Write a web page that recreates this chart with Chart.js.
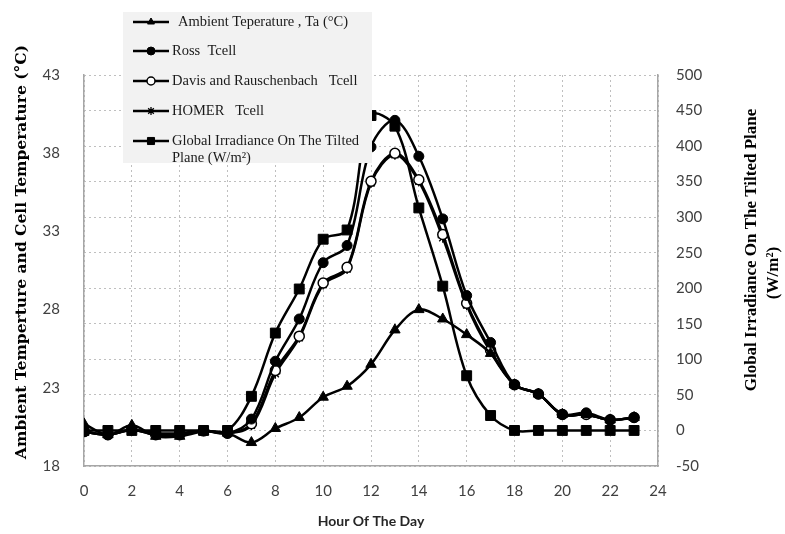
<!DOCTYPE html>
<html>
<head>
<meta charset="utf-8">
<script src="https://cdn.jsdelivr.net/npm/chart.js@4.4.1/dist/chart.umd.min.js"></script>
<style>
  html, body { margin: 0; padding: 0; background: #ffffff; }
  #wrap { width: 785px; height: 534px; position: relative; }
</style>
</head>
<body>
<div id="wrap"><canvas id="cellTempChart" width="785" height="534"></canvas></div>
<script>
// Values, one per hour (0..23)
const hours = [0, 1, 2, 3, 4, 5, 6, 7, 8, 9, 10, 11, 12, 13, 14, 15, 16, 17, 18, 19, 20, 21, 22, 23];
const ambientTemp = [20.7, 20.0, 20.6, 19.9, 19.9, 20.2, 20.1, 19.5, 20.4, 21.1, 22.4, 23.1, 24.5, 26.7, 28.0, 27.4, 26.4, 25.2, 23.2, 22.6, 21.3, 21.3, 20.95, 21.1];
const rossTcell = [20.2, 20.0, 20.3, 20.1, 20.1, 20.25, 20.1, 21.0, 24.7, 27.4, 31.0, 32.1, 38.4, 40.1, 37.8, 33.8, 28.9, 25.9, 23.2, 22.6, 21.3, 21.4, 20.95, 21.1];
const davisTcell = [20.2, 20.0, 20.3, 20.0, 20.0, 20.25, 20.1, 20.7, 24.1, 26.3, 29.7, 30.7, 36.2, 38.0, 36.3, 32.8, 28.4, 25.4, 23.2, 22.6, 21.3, 21.3, 20.95, 21.1];
const homerTcell = [20.2, 20.0, 20.3, 20.0, 20.0, 20.25, 20.1, 20.6, 23.9, 26.2, 29.6, 30.6, 36.1, 37.9, 36.2, 32.6, 28.3, 25.3, 23.2, 22.6, 21.3, 21.3, 20.95, 21.1];
const irradiance = [0, 0, 0, 0, 0, 0, 0, 48, 137, 199, 269, 282, 443, 428, 313, 203, 77, 21, 0, 0, 0, 0, 0, 0];

const legendLabels = [
    ["Ambient Teperature , Ta (\u00B0C)"],
    ["Ross  Tcell"],
    ["Davis and Rauschenbach   Tcell"],
    ["HOMER   Tcell"],
    ["Global Irradiance On The Tilted", "Plane (W/m\u00B2)"]
];
const leftTitle = "Ambient Temperture and Cell Temperature (\u00B0C)";
const rightTitle = ["Global Irradiance On The Tilted Plane", "(W/m\u00B2)"];
const bottomTitle = "Hour Of The Day";

function toPoints(values) {
    return hours.map((h, i) => ({ x: h, y: values[i] }));
}

function lineSeries(label, values, style, extra) {
    return Object.assign({
        label,
        data: toPoints(values),
        borderColor: "#000000",
        backgroundColor: "#000000",
        borderWidth: 2.5,
        tension: 0.35,
        pointStyle: style,
        pointRadius: 5,
        pointBorderColor: "#000000",
        pointBackgroundColor: "#000000",
        pointBorderWidth: 1,
        yAxisID: "y",
        order: 1
    }, extra || {});
}

const datasets = [
    lineSeries(legendLabels[0][0], ambientTemp, "triangle", { pointRadius: 6, order: 2 }),
    lineSeries(legendLabels[1][0], rossTcell, "circle", { pointRadius: 5, order: 3 }),
    lineSeries(legendLabels[2][0], davisTcell, "circle", { pointRadius: 5, pointBackgroundColor: "#ffffff", pointBorderWidth: 1.5, order: 4 }),
    lineSeries(legendLabels[3][0], homerTcell, "star", { pointRadius: 5, pointBorderWidth: 1.3, order: 5 }),
    lineSeries(legendLabels[4].join(" "), irradiance, "rect", { pointRadius: 7, yAxisID: "y1", order: 0 })
];

const drawPoint = (Chart.helpers && Chart.helpers.drawPoint) ? Chart.helpers.drawPoint : null;

const decorPlugin = {
    id: "cellTempDecor",
    afterDraw(chart) {
        const { ctx } = chart;
        ctx.save();
        ctx.textAlign = "center";
        ctx.textBaseline = "middle";

        // left axis title
        ctx.fillStyle = "#000000";
        ctx.font = "bold 15.5px 'DejaVu Serif', serif";
        ctx.save();
        ctx.translate(22, 252);
        ctx.rotate(-Math.PI / 2);
        ctx.fillText(leftTitle, 0, 0);
        ctx.restore();

        // right axis title, two lines reading bottom to top
        ctx.font = "bold 17px 'Liberation Serif', serif";
        ctx.save();
        ctx.translate(752, 250);
        ctx.rotate(-Math.PI / 2);
        ctx.fillText(rightTitle[0], 0, 0);
        ctx.fillText(rightTitle[1], -23, 22);
        ctx.restore();

        // bottom title
        ctx.fillStyle = "#262626";
        ctx.font = "bold 14px Lato, sans-serif";
        ctx.fillText(bottomTitle, 371, 521);

        // legend box
        ctx.fillStyle = "#f2f2f2";
        ctx.fillRect(123, 12, 249, 151);

        const rows = [22, 51, 81, 111, 141];
        datasets.forEach((ds, i) => {
            const y = rows[i];
            ctx.strokeStyle = "#000000";
            ctx.lineWidth = 2.5;
            ctx.beginPath();
            ctx.moveTo(133, y);
            ctx.lineTo(169, y);
            ctx.stroke();
            if (drawPoint) {
                ctx.fillStyle = ds.pointBackgroundColor;
                ctx.strokeStyle = "#000000";
                ctx.lineWidth = ds.pointBorderWidth;
                drawPoint(ctx, { pointStyle: ds.pointStyle, radius: ds.pointStyle === "rect" ? 5 : 4, rotation: 0, borderWidth: ds.pointBorderWidth }, 151, y);
            }
            ctx.fillStyle = "#1a1a1a";
            ctx.font = "14.5px 'Liberation Serif', serif";
            ctx.textAlign = "left";
            ctx.textBaseline = "middle";
            const tx = i === 0 ? 178 : 172;
            legendLabels[i].forEach((line, k) => ctx.fillText(line, tx, y + k * 17));
        });

        ctx.restore();
    }
};

new Chart(document.getElementById("cellTempChart"), {
    type: "line",
    data: { datasets },
    options: {
        responsive: false,
        animation: false,
        events: [],
        layout: { padding: { top: 75, left: 0, right: 0, bottom: 0 } },
        plugins: {
            legend: { display: false },
            tooltip: { enabled: false }
        },
        scales: {
            x: {
                type: "linear",
                min: 0,
                max: 24,
                ticks: {
                    stepSize: 2,
                    color: "#404040",
                    font: { family: "Lato, sans-serif", size: 15 },
                    padding: 16
                },
                grid: { color: "#bfbfbf", lineWidth: 1, drawTicks: false },
                border: { display: true, color: "#a6a6a6", width: 1.5, dash: [2, 3] },
                afterFit(scale) { scale.height = 68; }
            },
            y: {
                position: "left",
                min: 18,
                max: 43,
                ticks: {
                    stepSize: 5,
                    color: "#404040",
                    font: { family: "Lato, sans-serif", size: 15 },
                    padding: 24
                },
                grid: { display: false, drawTicks: false },
                border: { display: true, color: "#a6a6a6", width: 1.5 },
                afterFit(scale) { scale.width = 84; }
            },
            y1: {
                position: "right",
                min: -50,
                max: 500,
                ticks: {
                    stepSize: 50,
                    color: "#404040",
                    font: { family: "Lato, sans-serif", size: 15 },
                    padding: 18
                },
                grid: { color: "#bfbfbf", lineWidth: 1, drawTicks: false },
                border: { display: true, color: "#a6a6a6", width: 1.5, dash: [2, 3] },
                afterFit(scale) { scale.width = 127; }
            }
        }
    },
    plugins: [decorPlugin]
});
</script>
</body>
</html>
